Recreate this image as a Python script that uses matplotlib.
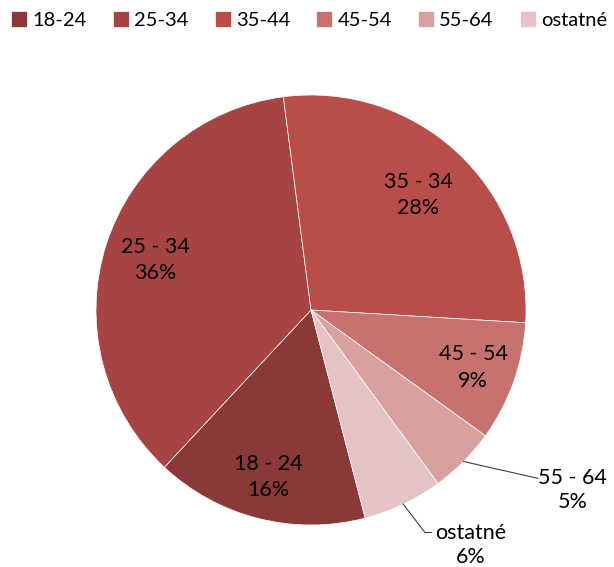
import numpy as np
import matplotlib
matplotlib.use("Agg")
import matplotlib.pyplot as plt

plt.rcParams['font.family'] = ['Lato', 'DejaVu Sans']

# data (legend order)
legend_labels = ['18-24', '25-34', '35-44', '45-54', '55-64', 'ostatné']
slice_labels = ['18 - 24', '25 - 34', '35 - 34', '45 - 54', '55 - 64', 'ostatné']
shares = [16, 36, 28, 9, 5, 6]
colors = ['#8B3838', '#A54442', '#B94D49', '#C87270', '#D9A0A0', '#E3C3C3']

fig = plt.figure(figsize=(6.14, 5.67), dpi=100)
ax = fig.add_axes([96 / 614, 42 / 567, 430 / 614, 430 / 567])

wedges, _ = ax.pie(shares, colors=colors, startangle=-75.4, counterclock=False,
                   radius=1, wedgeprops=dict(edgecolor='white', linewidth=0.5))
ax.set_xlim(-1, 1)
ax.set_ylim(-1, 1)
ax.set_aspect('equal')
ax.axis('off')

fs = 15.5
inside_dist = [0.80, 0.76, 0.73, 0.80]
for i, w in enumerate(wedges):
    mid = np.deg2rad((w.theta1 + w.theta2) / 2)
    text = f"{slice_labels[i]}\n{shares[i]}%"
    if i < 4:
        r = inside_dist[i]
        ax.text(r * np.cos(mid), r * np.sin(mid), text, ha='center', va='center',
                fontsize=fs, linespacing=1.4, color='black')

# outside labels with leader lines
edge = [(np.cos(np.deg2rad((w.theta1 + w.theta2) / 2)),
         np.sin(np.deg2rad((w.theta1 + w.theta2) / 2))) for w in wedges]

# 55 - 64
x0, y0 = edge[4]
ax.plot([x0, 1.055], [y0, -0.783], color='#404040', lw=0.8, clip_on=False)
ax.text(1.215, -0.783, f"{slice_labels[4]}", ha='center', va='center', fontsize=fs, clip_on=False)
ax.text(1.215, -0.895, f"{shares[4]}%", ha='center', va='center', fontsize=fs, clip_on=False)

# ostatné
x0, y0 = edge[5]
ax.plot([x0, 0.53, 0.56], [y0, -1.035, -1.035], color='#404040', lw=0.8, clip_on=False)
ax.text(0.745, -1.035, f"{slice_labels[5]}", ha='center', va='center', fontsize=fs, clip_on=False)
ax.text(0.745, -1.15, f"{shares[5]}%", ha='center', va='center', fontsize=fs, clip_on=False)

fig.legend(wedges, legend_labels, loc='upper left', bbox_to_anchor=(-0.005, 1.005),
           ncol=6, frameon=False, fontsize=14.5, handlelength=0.8, handleheight=0.85,
           handletextpad=0.25, columnspacing=1.3, borderaxespad=0.3)

fig.savefig('out.png', dpi=100)
